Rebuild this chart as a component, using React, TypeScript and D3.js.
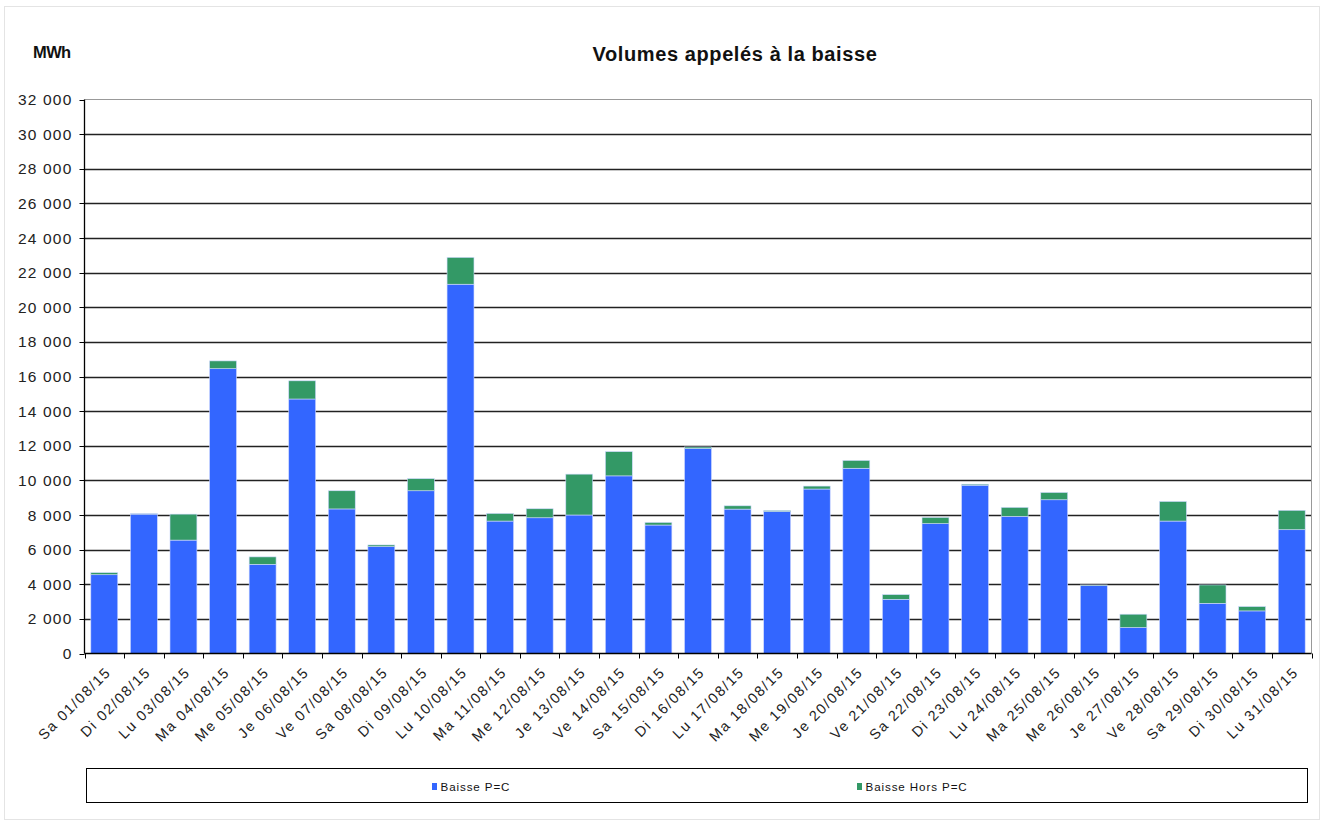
import React, { useEffect, useRef } from "react";
import * as d3 from "d3";

const categories = [
  "Sa 01/08/15", "Di 02/08/15", "Lu 03/08/15", "Ma 04/08/15", "Me 05/08/15", "Je 06/08/15",
  "Ve 07/08/15", "Sa 08/08/15", "Di 09/08/15", "Lu 10/08/15", "Ma 11/08/15", "Me 12/08/15",
  "Je 13/08/15", "Ve 14/08/15", "Sa 15/08/15", "Di 16/08/15", "Lu 17/08/15", "Ma 18/08/15",
  "Me 19/08/15", "Je 20/08/15", "Ve 21/08/15", "Sa 22/08/15", "Di 23/08/15", "Lu 24/08/15",
  "Ma 25/08/15", "Me 26/08/15", "Je 27/08/15", "Ve 28/08/15", "Sa 29/08/15", "Di 30/08/15",
  "Lu 31/08/15",
];

const baissePC = [
  4550, 8050, 6550, 16450, 5150, 14700, 8350, 6170, 9400, 21330, 7650, 7840, 8000, 10260,
  7420, 11840, 8340, 8200, 9500, 10700, 3130, 7500, 9720, 7920, 8880, 3920, 1500, 7650,
  2900, 2460, 7150,
];

const baisseHorsPC = [
  120, 30, 1500, 450, 430, 1050, 1050, 100, 700, 1550, 440, 520, 2360, 1400, 150, 90, 190,
  60, 170, 450, 270, 360, 60, 520, 420, 40, 770, 1130, 1060, 250, 1120,
];

const yTicks = [0, 2000, 4000, 6000, 8000, 10000, 12000, 14000, 16000, 18000, 20000, 22000, 24000, 26000, 28000, 30000, 32000];

const seriesNames = ["Baisse P=C", "Baisse Hors P=C"];
const seriesColors = ["#3366FF", "#339966"];

const W = 1324;
const H = 823;
const M = { left: 84.5, right: 1311.5, top: 99.5, bottom: 653.5 };
const FONT = "'Liberation Sans', Arial, sans-serif";

export default function App() {
  const ref = useRef<SVGSVGElement>(null);

  useEffect(() => {
    const svg = d3.select(ref.current);
    svg.selectAll("*").remove();

    const x = d3.scaleBand<string>().domain(categories).range([M.left, M.right]).paddingInner(0.32).paddingOuter(0.16);
    const y = d3.scaleLinear().domain([0, 32000]).range([M.bottom, M.top]);

    // outer frame
    svg.append("rect").attr("x", 4.5).attr("y", 6.5).attr("width", W - 9).attr("height", H - 10)
      .attr("fill", "white").attr("stroke", "#e4e4e4");

    // title
    svg.append("text").attr("x", 735).attr("y", 61).attr("text-anchor", "middle")
      .attr("font-family", FONT).attr("font-size", 20).attr("font-weight", "bold").attr("fill", "#111")
      .attr("letter-spacing", 0.6).text("Volumes appelés à la baisse");
    svg.append("text").attr("x", 33).attr("y", 58)
      .attr("font-family", FONT).attr("font-size", 16.5).attr("font-weight", "bold").attr("fill", "#111")
      .attr("letter-spacing", -0.6).text("MWh");

    // gridlines
    const g = svg.append("g");
    g.selectAll("line.grid").data(yTicks.filter((t) => t > 0 && t < 32000)).join("line")
      .attr("x1", M.left).attr("x2", M.right)
      .attr("y1", (d) => Math.round(y(d)) + 0.5).attr("y2", (d) => Math.round(y(d)) + 0.5)
      .attr("stroke", "#222").attr("stroke-width", 1.3);
    // top & right border
    g.append("line").attr("x1", M.left).attr("x2", M.right).attr("y1", M.top).attr("y2", M.top).attr("stroke", "#999");
    g.append("line").attr("x1", M.right).attr("x2", M.right).attr("y1", M.top).attr("y2", M.bottom).attr("stroke", "#999");

    // stacked bars
    const data = categories.map((c, i) => ({ c, a: baissePC[i], b: baisseHorsPC[i] }));
    const stack = d3.stack<any>().keys(["a", "b"])(data);
    stack.forEach((layer, li) => {
      svg.append("g").selectAll("rect").data(layer).join("rect")
        .attr("x", (d: any) => x(d.data.c)!)
        .attr("width", x.bandwidth())
        .attr("y", (d: any) => y(d[1]))
        .attr("height", (d: any) => Math.max(0, y(d[0]) - y(d[1])))
        .attr("fill", seriesColors[li])
        .attr("stroke", "#cfd9ff").attr("stroke-width", 0.6);
    });

    // y axis
    const yAxis = svg.append("g");
    yAxis.append("line").attr("x1", M.left).attr("x2", M.left).attr("y1", M.top).attr("y2", M.bottom).attr("stroke", "#000").attr("stroke-width", 1.3);
    yAxis.selectAll("line.t").data(yTicks).join("line")
      .attr("x1", M.left - 5).attr("x2", M.left)
      .attr("y1", (d) => Math.round(y(d)) + 0.5).attr("y2", (d) => Math.round(y(d)) + 0.5)
      .attr("stroke", "#000");
    const fmt = (v: number) => d3.format(",")(v).replace(/,/g, " ");
    yAxis.selectAll("text").data(yTicks).join("text")
      .attr("x", M.left - 12).attr("y", (d) => y(d) + 5.5).attr("text-anchor", "end")
      .attr("font-family", FONT).attr("font-size", 15.5).attr("fill", "#222").attr("letter-spacing", 1.2)
      .text((d) => fmt(d));

    // x axis
    const xAxis = svg.append("g");
    xAxis.append("line").attr("x1", M.left).attr("x2", M.right).attr("y1", M.bottom).attr("y2", M.bottom).attr("stroke", "#000").attr("stroke-width", 1.3);
    const bounds = d3.range(categories.length + 1).map((i) => M.left + i * (M.right - M.left) / categories.length);
    xAxis.selectAll("line.t").data(bounds).join("line")
      .attr("x1", (d) => Math.round(d) + 0.5).attr("x2", (d) => Math.round(d) + 0.5)
      .attr("y1", M.bottom).attr("y2", M.bottom + 5).attr("stroke", "#000");
    xAxis.selectAll("text").data(categories).join("text")
      .attr("transform", (d) => `translate(${x(d)! + x.bandwidth() / 2 + 4},${M.bottom + 16}) rotate(-45)`)
      .attr("text-anchor", "end").attr("dy", "0.35em")
      .attr("font-family", FONT).attr("font-size", 14.5).attr("fill", "#222").attr("letter-spacing", 1.6)
      .text((d) => d);

    // legend
    const lg = svg.append("g");
    lg.append("rect").attr("x", 86.5).attr("y", 768.5).attr("width", 1221).attr("height", 34)
      .attr("fill", "white").attr("stroke", "#000");
    const legendX = [432, 857];
    seriesNames.forEach((n, i) => {
      lg.append("rect").attr("x", legendX[i]).attr("y", 783).attr("width", 5).attr("height", 7).attr("fill", seriesColors[i]);
      lg.append("text").attr("x", legendX[i] + 8.5).attr("y", 790.5).attr("font-family", FONT)
        .attr("font-size", 11.6).attr("letter-spacing", 0.9).attr("fill", "#111").text(n);
    });
  }, []);

  return (
    <svg ref={ref} width={W} height={H} style={{ position: "absolute", left: 0, top: 0, background: "white" }} />
  );
}
